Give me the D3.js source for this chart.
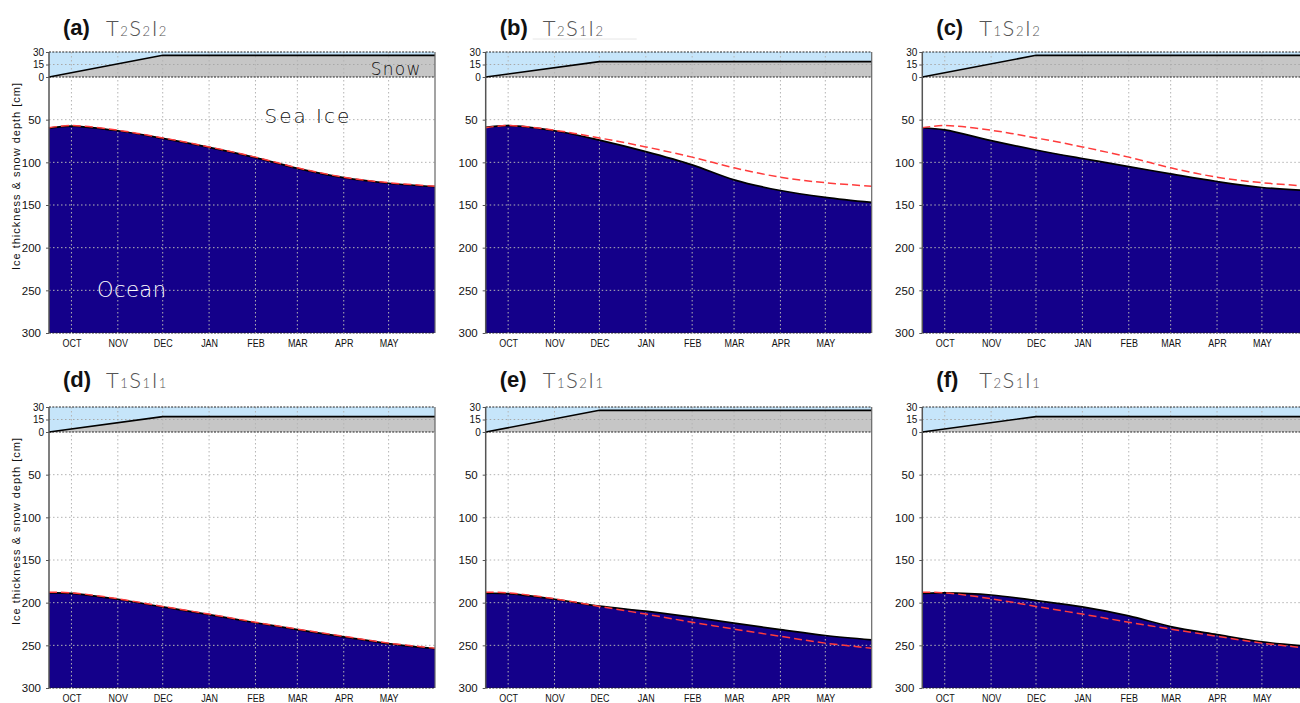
<!DOCTYPE html>
<html>
<head>
<meta charset="utf-8">
<script src="https://cdn.jsdelivr.net/npm/d3@7"></script>
<style>
  body { margin: 0; background: #fff; }
  svg { display: block; }
</style>
</head>
<body>
<div id="chart"></div>
<script>
// sample dates for the ice curves (Sep 16 .. Jun 1)
const sampleDates = ["2001-09-16", "2001-10-01", "2001-11-01", "2001-12-01", "2002-01-01",
                     "2002-02-01", "2002-03-01", "2002-04-01", "2002-05-01", "2002-06-01"];
const monthTicks = ["2001-10-01", "2001-11-01", "2001-12-01", "2002-01-01",
                    "2002-02-01", "2002-03-01", "2002-04-01", "2002-05-01"];
const monthLabels = ["OCT", "NOV", "DEC", "JAN", "FEB", "MAR", "APR", "MAY"];

// snow depth: linear growth until Dec 1, then constant
const snowDates = ["2001-09-16", "2001-12-01", "2002-06-01"];
const snowS1 = [0, 18.5, 18.5];
const snowS2 = [0, 26, 26];

// ice thickness [cm]
const iceA = [60, 57.5, 63, 72, 82.5, 94.5, 107, 118, 124.5, 128.5];
const iceB = [59, 57, 63, 74, 87.5, 103, 120.5, 133, 141, 147];
const iceC = [59.5, 62, 74.5, 85.5, 95.5, 105, 113.5, 122.5, 129.5, 133];
const iceD = [188.5, 189, 196, 205, 214, 223.5, 231.5, 240, 248, 254];
const iceE = [189, 189.5, 196, 204, 210, 217, 224, 231.5, 238.5, 243.5];
const iceF = [189, 188.5, 191, 197.5, 205, 215.5, 228, 237.5, 246, 251];

const panelLetters = ["(a)", "(b)", "(c)", "(d)", "(e)", "(f)"];
const panelT = ["2", "2", "1", "1", "1", "2"];
const panelS = ["2", "1", "2", "1", "2", "1"];
const panelI = ["2", "2", "2", "1", "1", "1"];
const panelIce = [iceA, iceB, iceC, iceD, iceE, iceF];
const panelRef = [iceA, iceA, iceA, iceD, iceD, iceD];
const panelSnow = [snowS2, snowS1, snowS2, snowS1, snowS2, snowS1];

const iceTicks = [50, 100, 150, 200, 250, 300];
const snowTicks = [0, 15, 30];

const width = 1300, height = 703;
const colLeft = [49, 485.7, 922.3];
const rowTop = [52, 407];
const titleDy = [-17, -20];
const plotW = 386, snowH = 25, iceH = 256;

const colOcean = "#14008a";
const colSky = "#c6e5fa";
const colSnow = "#c6c6c6";

const parse = d3.timeParse("%Y-%m-%d");

const svg = d3.select("#chart")
    .append("svg")
    .attr("width", width)
    .attr("height", height);

svg.append("rect").attr("width", width).attr("height", height).attr("fill", "#fff");

const x = d3.scaleTime()
    .domain([parse(sampleDates[0]), parse(sampleDates[sampleDates.length - 1])])
    .range([0, plotW]);
const ys = d3.scaleLinear().domain([0, 30]).range([snowH, 0]);
const yi = d3.scaleLinear().domain([0, 300]).range([snowH, snowH + iceH]);

const tickDates = monthTicks.map(parse);
const smooth = d3.curveCatmullRom.alpha(0.5);

function drawPanel(i) {
    const col = i % 3, row = Math.floor(i / 3);
    const g = svg.append("g")
        .attr("transform", `translate(${colLeft[col]}, ${rowTop[row]})`);

    const ice = sampleDates.map((d, k) => ({ date: parse(d), v: panelIce[i][k] }));
    const ref = sampleDates.map((d, k) => ({ date: parse(d), v: panelRef[i][k] }));
    const snow = snowDates.map((d, k) => ({ date: parse(d), v: panelSnow[i][k] }));

    // snow box background
    g.append("rect")
        .attr("x", 0).attr("y", ys(30))
        .attr("width", plotW).attr("height", ys(0) - ys(30))
        .attr("fill", colSky);

    g.append("path")
        .datum(snow)
        .attr("fill", colSnow)
        .attr("d", d3.area().x(d => x(d.date)).y0(ys(0)).y1(d => ys(d.v)));

    // ocean below the ice
    g.append("path")
        .datum(ice)
        .attr("fill", colOcean)
        .attr("d", d3.area().curve(smooth)
            .x(d => x(d.date)).y0(yi(300)).y1(d => yi(d.v)));

    // grid
    const grid = g.append("g").attr("stroke-dasharray", "1.5,2.5").attr("stroke-width", 1);
    grid.selectAll(".vg").data(tickDates).enter().append("line")
        .attr("x1", d => x(d)).attr("x2", d => x(d))
        .attr("y1", ys(30)).attr("y2", yi(300))
        .attr("stroke", "#b4b4b4");
    grid.selectAll(".hg").data([50, 100, 150, 200, 250]).enter().append("line")
        .attr("x1", 0).attr("x2", plotW)
        .attr("y1", d => yi(d)).attr("y2", d => yi(d))
        .attr("stroke", "#b4b4b4");
    grid.append("line")
        .attr("x1", 0).attr("x2", plotW)
        .attr("y1", ys(15)).attr("y2", ys(15))
        .attr("stroke", "#a8a8a8");

    // dotted black frame lines
    [ys(30), ys(0), yi(300)].forEach(yy => {
        g.append("line")
            .attr("x1", 0).attr("x2", plotW)
            .attr("y1", yy).attr("y2", yy)
            .attr("stroke", "#222")
            .attr("stroke-width", 1.1)
            .attr("stroke-dasharray", "2,1.3");
    });

    // snow line
    g.append("path")
        .datum(snow)
        .attr("fill", "none")
        .attr("stroke", "#000")
        .attr("stroke-width", 1.6)
        .attr("d", d3.line().x(d => x(d.date)).y(d => ys(d.v)));

    // ice line + reference
    g.append("path")
        .datum(ice)
        .attr("fill", "none")
        .attr("stroke", "#000")
        .attr("stroke-width", 1.7)
        .attr("d", d3.line().curve(smooth).x(d => x(d.date)).y(d => yi(d.v)));
    g.append("path")
        .datum(ref)
        .attr("fill", "none")
        .attr("stroke", "#ff3b3b")
        .attr("stroke-width", 1.5)
        .attr("stroke-dasharray", "8,4")
        .attr("d", d3.line().curve(smooth).x(d => x(d.date)).y(d => yi(d.v) - 0.5));

    // left axis line and right border
    g.append("line")
        .attr("x1", 0).attr("x2", 0).attr("y1", ys(30)).attr("y2", yi(300))
        .attr("stroke", "#555").attr("stroke-width", 1.5);
    g.append("line")
        .attr("x1", plotW).attr("x2", plotW).attr("y1", ys(30)).attr("y2", yi(300))
        .attr("stroke", "#666").attr("stroke-width", 1.2);

    // axes
    const sAxis = g.append("g")
        .call(d3.axisLeft(ys).tickValues(snowTicks).tickSize(3).tickPadding(2));
    sAxis.select(".domain").remove();
    sAxis.selectAll("line").attr("stroke", "#555");
    sAxis.selectAll("text")
        .style("font-family", "'Liberation Sans', Arial, sans-serif")
        .style("font-size", "10px")
        .attr("fill", "#111");

    const iAxis = g.append("g")
        .call(d3.axisLeft(yi).tickValues(iceTicks).tickSize(3).tickPadding(5));
    iAxis.select(".domain").remove();
    iAxis.selectAll("line").attr("stroke", "#555");
    iAxis.selectAll("text")
        .style("font-family", "'Liberation Sans', Arial, sans-serif")
        .style("font-size", "11.5px")
        .attr("fill", "#111");

    const xAxis = g.append("g")
        .attr("transform", `translate(0, ${yi(300)})`)
        .call(d3.axisBottom(x).tickValues(tickDates)
            .tickFormat((d, k) => monthLabels[k]).tickSize(0).tickPadding(6));
    xAxis.select(".domain").remove();
    xAxis.selectAll("text")
        .style("font-family", "'Liberation Sans', Arial, sans-serif")
        .style("font-size", "11.5px")
        .attr("fill", "#111")
        .attr("transform", "scale(0.78,1)");

    // title
    const ty = titleDy[row];
    g.append("text")
        .attr("x", 14).attr("y", ty)
        .style("font-family", "'Liberation Sans', Arial, sans-serif")
        .style("font-size", "22px")
        .style("font-weight", "bold")
        .attr("fill", "#111")
        .text(panelLetters[i]);
    const t = g.append("text")
        .attr("x", 57).attr("y", ty + 1)
        .style("font-family", "Lato, 'Open Sans', sans-serif")
        .style("font-weight", 300)
        .style("font-size", "22px")
        .style("letter-spacing", "1.5px")
        .attr("fill", "#555");
    [["T", panelT[i]], ["S", panelS[i]], ["I", panelI[i]]].forEach(([c, s]) => {
        t.append("tspan").text(c);
        t.append("tspan").style("font-size", "13px").text(s);
    });

    if (i === 1) {
        g.append("line")
            .attr("x1", 47).attr("x2", 151).attr("y1", -13).attr("y2", -13)
            .attr("stroke", "#e6e6e6").attr("stroke-width", 1);
    }

    // y axis title on left column
    if (col === 0) {
        svg.append("text")
            .attr("transform", `translate(20, ${rowTop[row] + 124}) rotate(-90)`)
            .attr("text-anchor", "middle")
            .style("font-family", "'Liberation Sans', Arial, sans-serif")
            .style("font-size", "11px")
            .style("letter-spacing", "1px")
            .attr("fill", "#111")
            .text("Ice thickness & snow depth [cm]");
    }

    // region labels in panel (a)
    if (i === 0) {
        const lab = (txt, date, yy, size, ls, fill) => g.append("text")
            .attr("x", x(parse(date))).attr("y", yy)
            .style("font-family", "'DejaVu Sans', sans-serif")
            .style("font-weight", 200)
            .style("font-size", size + "px")
            .style("letter-spacing", ls + "px")
            .attr("fill", fill)
            .text(txt);
        lab("Sea Ice", "2002-02-07", yi(53.6), 20, 2, "#111");
        lab("Snow", "2002-04-19", ys(2.4), 17, 1.3, "#111");
        lab("Ocean", "2001-10-18", yi(257.8), 21, 0.5, "#fff");
    }
}

for (let i = 0; i < 6; i++) drawPanel(i);
</script>
</body>
</html>
